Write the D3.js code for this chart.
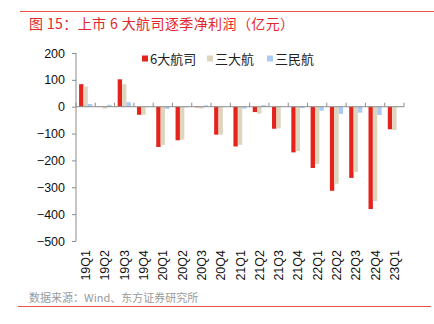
<!DOCTYPE html>
<html><head><meta charset="utf-8">
<script src="https://cdn.jsdelivr.net/npm/d3@7"></script>
<style>body{margin:0;background:#fff}svg{display:block}</style>
</head><body>
<script>
const categories = ["19Q1","19Q2","19Q3","19Q4","20Q1","20Q2","20Q3","20Q4","21Q1","21Q2","21Q3","21Q4","22Q1","22Q2","22Q3","22Q4","23Q1"];
const seriesNames = ["6大航司","三大航","三民航"];
const six   = [84, -1, 102, -30, -150, -125, -2, -104, -148, -20, -82, -170, -228, -313, -265, -381, -84];
const three = [75, -7, 84, -30, -142, -123, -7, -104, -142, -26, -80, -165, -213, -287, -243, -351, -87];
const priv  = [10, 7, 17, -1, -8, -2, 5, 0, -7, 6, -1, -5, -15, -27, -22, -31, 2];
const yTicks = [200,100,0,-100,-200,-300,-400,-500];
const colors = ["#e3231c","#ded5bf","#a9cbf6"];
const data = [six, three, priv];

const W = 434, H = 324;
const svg = d3.select("body").append("svg").attr("width", W).attr("height", H);
const fontCJK = "'Noto Sans CJK SC','Noto Sans',sans-serif";
const fontNum = "'Liberation Sans',Arial,sans-serif";

// header line and title
svg.append("line").attr("x1",20).attr("x2",434).attr("y1",11.5).attr("y2",11.5).attr("stroke","#e8524a").attr("stroke-width",1);
svg.append("text").attr("x",29).attr("y",29).attr("fill","#e3262a").attr("font-family",fontCJK)
  .attr("font-size",14).attr("letter-spacing",0.4).text("图 15：上市 6 大航司逐季净利润（亿元）");

const y = d3.scaleLinear().domain([-500,200]).range([241,53]);
const x = d3.scaleBand().domain(categories).range([76,404]).padding(0);
const x1 = d3.scaleBand().domain(seriesNames).range([x.bandwidth()*0.16, x.bandwidth()*0.84]).padding(0);

// y axis
const yAxis = d3.axisLeft(y).tickValues(yTicks).tickSize(4).tickPadding(7);
const gy = svg.append("g").attr("transform","translate(76,0)").call(yAxis);
gy.select(".domain").attr("stroke","#8c8c8c").attr("d","M0,"+y(200)+"V"+y(-500));
gy.selectAll(".tick line").attr("stroke","#8c8c8c");
gy.selectAll(".tick text").attr("font-family",fontNum).attr("font-size",12.5).attr("fill","#111");

// bars
seriesNames.forEach((s,si)=>{
  svg.append("g").selectAll("rect").data(categories).join("rect")
    .attr("x",(c)=>x(c)+x1(s))
    .attr("width",x1.bandwidth())
    .attr("y",(c,i)=>y(Math.max(0,data[si][i])))
    .attr("height",(c,i)=>Math.abs(y(data[si][i])-y(0)))
    .attr("fill",colors[si]);
});

// zero axis with ticks at band edges (upward)
const gx = svg.append("g");
gx.append("line").attr("x1",76).attr("x2",404).attr("y1",y(0)).attr("y2",y(0)).attr("stroke","#8c8c8c");
const edges = categories.map(c=>x(c)).concat([x.range()[1]]);
gx.selectAll("line.t").data(edges).join("line").attr("class","t")
  .attr("x1",d=>d).attr("x2",d=>d).attr("y1",y(0)-4).attr("y2",y(0)).attr("stroke","#8c8c8c");

// x labels rotated at bottom
svg.append("g").selectAll("text").data(categories).join("text")
  .attr("transform",c=>"translate("+(x(c)+x.bandwidth()/2+4.5)+",250) rotate(-90)")
  .attr("text-anchor","end").attr("font-family",fontNum).attr("font-size",12.5).attr("fill","#111")
  .text(c=>c);

// legend
const legX = [142, 207, 267];
seriesNames.forEach((s,i)=>{
  svg.append("rect").attr("x",legX[i]).attr("y",55.5).attr("width",6).attr("height",6).attr("fill",colors[i]);
  svg.append("text").attr("x",legX[i]+8).attr("y",64).attr("font-family",fontCJK).attr("font-size",13).attr("fill","#222").text(s);
});

// source + bottom line
svg.append("text").attr("x",29).attr("y",302).attr("font-family",fontCJK).attr("font-size",11).attr("fill","#9a9a9a")
  .text("数据来源：Wind、东方证券研究所");
svg.append("line").attr("x1",18).attr("x2",431).attr("y1",306.5).attr("y2",306.5).attr("stroke","#e8524a").attr("stroke-width",1);
</script>
</body></html>
